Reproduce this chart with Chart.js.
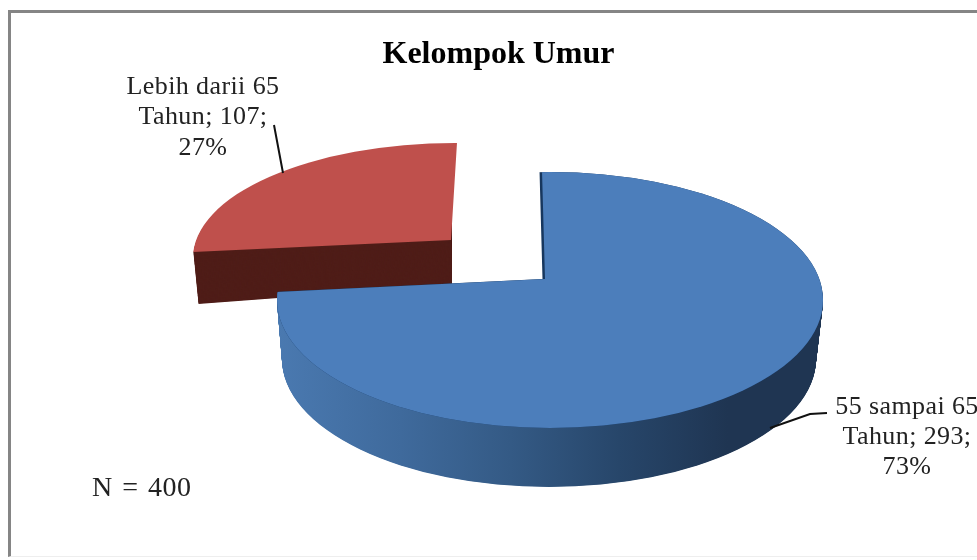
<!DOCTYPE html>
<html>
<head>
<meta charset="utf-8">
<script src="https://cdn.jsdelivr.net/npm/chart.js@4"></script>
<style>
  html, body { margin: 0; padding: 0; background: #fff; overflow: hidden; }
  #frame { position: absolute; left: 8px; top: 10px; width: 969px; height: 547px; border-top: 3px solid #858585; border-left: 3px solid #858585; border-bottom: 1px solid #eee; box-sizing: border-box; }
  #pie { position: absolute; left: 0; top: 0; filter: blur(0.5px); }
</style>
</head>
<body>
<div id="frame"></div>
<canvas id="pie" width="977" height="560"></canvas>
<script>
const categories = ['55 sampai 65 Tahun', 'Lebih darii 65 Tahun'];
const values = [293, 107];
const sliceColors = ['#4c7ebb', '#bf504c'];
const blueLabel = ['55 sampai 65', 'Tahun; 293;', '73%'];
const redLabel = ['Lebih darii 65', 'Tahun; 107;', '27%'];
const noteText = 'N = 400';
const titleText = 'Kelompok Umur';

const lerp = (p, q, t) => p + (q - p) * t;

// the pie is drawn by chart.js, here it only gets tilted and pushed down like excel's 3d pie
function drawSlice(ctx, arc, view, color) {
  const saved = arc.options;
  arc.options = { backgroundColor: color, borderColor: color, borderWidth: 0, offset: 0, spacing: 0, circular: true, borderAlign: 'center' };
  ctx.save();
  ctx.beginPath();
  ctx.ellipse(view.cx, view.cy, view.rx, view.ry, 0, 0, Math.PI * 2);
  ctx.clip();
  ctx.translate(view.ox, view.oy);
  ctx.transform(view.a, view.b, view.c, view.d, 0, 0);
  ctx.translate(-arc.x, -arc.y);
  arc.draw(ctx);
  ctx.restore();
  arc.options = saved;
}

function mixView(top, bottom, t) {
  const v = {};
  for (const k in top) v[k] = lerp(top[k], bottom[k], t);
  return v;
}

const blueTop = { cx: 550, cy: 300, rx: 273, ry: 128, ox: 545, oy: 279, a: 1.3, b: 0.009, c: 0.018, d: 0.65 };
const blueBottom = { cx: 549, cy: 359, rx: 267, ry: 128, ox: 545, oy: 338, a: 1.3, b: 0.009, c: 0.018, d: 0.65 };
const redTop = { cx: 455, cy: 258, rx: 262, ry: 115, ox: 451, oy: 240, a: 1.25, b: 0.0083, c: -0.037, d: 0.6 };
const redWallTop = { cx: 455, cy: 258, rx: 262, ry: 115, ox: 451, oy: 240, a: 1.25, b: 0.0083, c: 0, d: 0.6 };
const redBottom = { cx: 458, cy: 311, rx: 260, ry: 115, ox: 452, oy: 285, a: 1.25, b: -0.0275, c: 0, d: 0.6 };

const pie3d = {
  id: 'pie3d',
  beforeDatasetsDraw(chart) {
    const ctx = chart.ctx;
    const [blue, red] = chart.getDatasetMeta(0).data;

    // red wall + face
    for (let i = 48; i >= 1; i -= 0.5) drawSlice(ctx, red, mixView(redWallTop, redBottom, i / 48), '#4f1d18');
    drawSlice(ctx, red, redTop, sliceColors[1]);

    // blue rim, gradient runs in the pie's own x so undo the tilt
    const toPie = X => blue.x + (X - blueTop.ox) / blueTop.a;
    const rim = ctx.createLinearGradient(toPie(277), 0, toPie(823), 0);
    rim.addColorStop(0, '#4a79b0');
    rim.addColorStop(0.22, '#3f6a9c');
    rim.addColorStop(0.42, '#345a85');
    rim.addColorStop(0.62, '#27466a');
    rim.addColorStop(0.82, '#1f3552');
    rim.addColorStop(1, '#1f3552');
    for (let i = 59; i >= 1; i -= 0.5) drawSlice(ctx, blue, mixView(blueTop, blueBottom, i / 59), rim);

    // thin dark wall at the notch
    drawSlice(ctx, blue, Object.assign({}, blueTop, { ox: blueTop.ox - 2.5 }), '#17375e');
    drawSlice(ctx, blue, blueTop, sliceColors[0]);
    return false;
  },
  afterDraw(chart) {
    const ctx = chart.ctx;
    ctx.save();
    // leader lines
    ctx.strokeStyle = '#111';
    ctx.lineWidth = 2;
    ctx.beginPath();
    ctx.moveTo(274, 125); ctx.lineTo(283, 173);
    ctx.moveTo(770, 428); ctx.lineTo(810, 414); ctx.lineTo(827, 413);
    ctx.stroke();

    ctx.fillStyle = '#222';
    ctx.font = '26px "Liberation Serif"';
    ctx.letterSpacing = '0.4px';
    ctx.textAlign = 'center';
    ctx.textBaseline = 'middle';
    redLabel.forEach((t, i) => ctx.fillText(t, 203, 87 + i * 30.5));
    blueLabel.forEach((t, i) => ctx.fillText(t, 907, 407 + i * 30));
    ctx.font = '28px "Liberation Serif"';
    ctx.letterSpacing = '0.5px';
    ctx.wordSpacing = '2px';
    ctx.textAlign = 'left';
    ctx.fillText(noteText, 92, 489);
    ctx.restore();
  }
};

new Chart(document.getElementById('pie'), {
  type: 'pie',
  data: { labels: categories, datasets: [{ data: values, backgroundColor: sliceColors, borderWidth: 0, radius: 273 }] },
  options: {
    responsive: false,
    animation: false,
    layout: { padding: { left: 20 } },
    plugins: {
      legend: { display: false },
      tooltip: { enabled: false },
      title: {
        display: true,
        text: titleText,
        color: '#000',
        font: { family: '"Liberation Serif"', size: 32, weight: 'bold' },
        padding: { top: 36, bottom: 10 }
      }
    }
  },
  plugins: [pie3d]
});
</script>
</body>
</html>
